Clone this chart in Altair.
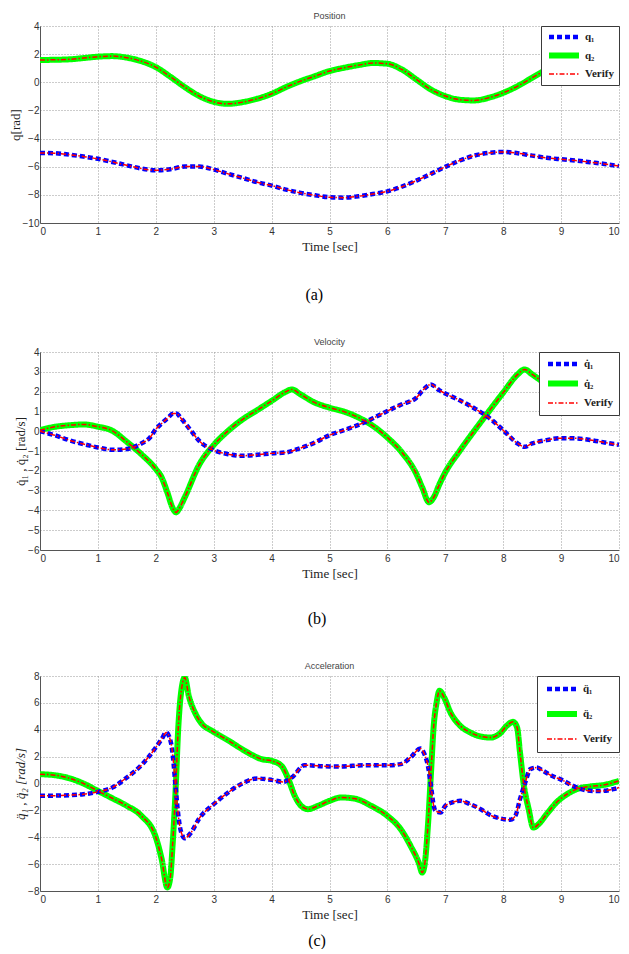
import altair as alt
import pandas as pd

SANS = "Liberation Sans"
SERIF = "Liberation Serif"

# ---------------- Panel (a): Position ----------------
pos_t = [0, 0.25, 0.5, 0.75, 1, 1.25, 1.5, 1.75, 2, 2.25, 2.5, 2.75, 3, 3.25, 3.5, 3.75,
         4, 4.25, 4.5, 4.75, 5, 5.25, 5.5, 5.75, 6, 6.25, 6.5, 6.75, 7, 7.25, 7.5, 7.75,
         8, 8.25, 8.5, 8.75, 9, 9.25, 9.5, 9.75, 10]
pos_q1 = [-5.02, -5.04, -5.14, -5.28, -5.44, -5.66, -5.9, -6.13, -6.25, -6.18, -5.99, -5.99,
          -6.2, -6.51, -6.8, -7.1, -7.34, -7.63, -7.86, -8.03, -8.17, -8.2, -8.1, -7.94,
          -7.75, -7.42, -6.99, -6.51, -6.01, -5.56, -5.21, -5.02, -4.95, -5.04, -5.21,
          -5.37, -5.47, -5.56, -5.68, -5.8, -5.96]
pos_q2 = [1.58, 1.6, 1.63, 1.72, 1.82, 1.86, 1.75, 1.5, 1.08, 0.4, -0.34, -0.98, -1.39,
          -1.53, -1.41, -1.17, -0.82, -0.34, 0.08, 0.44, 0.8, 1.03, 1.22, 1.37, 1.32, 0.91,
          0.2, -0.51, -0.98, -1.24, -1.29, -1.1, -0.75, -0.27, 0.32, 0.91, 1.5, 2.0, 2.45,
          2.8, 3.05]

# ---------------- Panel (b): Velocity ----------------
vel_t1 = [0, 0.25, 0.5, 0.75, 1, 1.25, 1.5, 1.75, 1.9, 2, 2.1, 2.2, 2.3, 2.35, 2.45, 2.6,
          2.75, 3, 3.25, 3.5, 3.75, 4, 4.25, 4.5, 4.75, 5, 5.25, 5.5, 5.75, 6, 6.25, 6.5,
          6.6, 6.75, 6.9, 7, 7.25, 7.5, 7.75, 8, 8.25, 8.37, 8.5, 8.75, 9, 9.25, 9.5,
          9.75, 10]
vel_q1 = [0.0, -0.2, -0.45, -0.65, -0.82, -0.94, -0.9, -0.62, -0.32, 0.1, 0.39, 0.65, 0.89,
          0.9, 0.6, 0.05, -0.49, -0.96, -1.16, -1.24, -1.19, -1.12, -1.07, -0.85, -0.57,
          -0.2, 0.05, 0.32, 0.65, 1.02, 1.36, 1.69, 2.03, 2.36, 2.06, 1.9, 1.56, 1.16,
          0.69, 0.05, -0.62, -0.79, -0.62, -0.45, -0.35, -0.36, -0.44, -0.57, -0.69]
vel_t2 = [0, 0.25, 0.5, 0.75, 1, 1.25, 1.5, 1.75, 2, 2.1, 2.2, 2.3, 2.35, 2.4, 2.5, 2.75,
          3, 3.25, 3.5, 3.75, 4, 4.25, 4.35, 4.5, 4.75, 5, 5.25, 5.5, 5.75, 6, 6.25, 6.5,
          6.6, 6.72, 6.8, 6.9, 7, 7.25, 7.5, 7.75, 8, 8.25, 8.37, 8.5, 8.75, 9, 9.5, 10]
vel_q2 = [0.05, 0.22, 0.3, 0.34, 0.23, 0.02, -0.54, -1.16, -1.91, -2.33, -3.1, -3.93, -4.1,
          -3.93, -3.34, -1.69, -0.7, 0.02, 0.6, 1.06, 1.53, 2.0, 2.11, 1.86, 1.44, 1.19,
          0.99, 0.69, 0.27, -0.32, -1.07, -2.16, -2.83, -3.59, -3.34, -2.67, -2.08, -0.99,
          0.02, 0.99, 1.95, 2.87, 3.12, 2.87, 2.37, 2.0, 1.7, 1.48]

# ---------------- Panel (c): Acceleration ----------------
acc_t1 = [0, 0.5, 0.75, 1, 1.25, 1.5, 1.75, 2, 2.1, 2.18, 2.26, 2.3, 2.34, 2.39, 2.43, 2.5,
          2.6, 2.75, 3, 3.25, 3.5, 3.75, 4, 4.2, 4.35, 4.57, 5, 5.2, 5.6, 6.0, 6.23, 6.4,
          6.57, 6.64, 6.7, 6.76, 6.8, 6.83, 6.92, 7.0, 7.12, 7.26, 7.43, 7.61, 7.78, 7.95,
          8.12, 8.21, 8.29, 8.38, 8.47, 8.58, 8.69, 8.84, 9.01, 9.18, 9.35, 9.55, 9.72,
          9.9, 10]
acc_q1 = [-0.92, -0.87, -0.8, -0.62, -0.3, 0.45, 1.36, 2.68, 3.3, 3.8, 3.07, 1.81, -0.17,
          -2.4, -3.5, -4.07, -3.7, -2.6, -1.54, -0.67, 0.02, 0.37, 0.27, 0.12, 0.45, 1.36,
          1.27, 1.27, 1.36, 1.36, 1.44, 1.94, 2.6, 2.18, 1.32, -0.42, -1.66, -2.03, -2.16,
          -1.66, -1.41, -1.29, -1.54, -1.91, -2.36, -2.6, -2.7, -2.41, -1.17, 0.07, 1.07,
          1.19, 0.94, 0.57, 0.27, -0.12, -0.42, -0.55, -0.55, -0.42, -0.3]
acc_t2 = [0, 0.25, 0.5, 0.75, 1, 1.25, 1.5, 1.75, 2, 2.1, 2.2, 2.25, 2.29, 2.34, 2.39, 2.43,
          2.5, 2.57, 2.69, 2.8, 2.97, 3.26, 3.54, 3.83, 4.0, 4.17, 4.29, 4.4, 4.51, 4.63,
          4.8, 5.0, 5.2, 5.43, 5.72, 6.0, 6.23, 6.4, 6.55, 6.6, 6.64, 6.7, 6.75, 6.8, 6.85,
          6.9, 6.98, 7.09, 7.26, 7.43, 7.61, 7.78, 7.95, 8.06, 8.17, 8.24, 8.29, 8.35, 8.44,
          8.52, 8.61, 8.75, 8.92, 9.1, 9.27, 9.5, 9.72, 10]
acc_q2 = [0.69, 0.62, 0.4, 0.0, -0.55, -1.1, -1.66, -2.4, -4.0, -5.6, -7.74, -7.0, -4.6,
          -0.67, 4.29, 6.52, 7.88, 6.52, 5.16, 4.42, 3.92, 3.18, 2.43, 1.81, 1.69, 1.32,
          0.32, -0.92, -1.66, -1.91, -1.66, -1.29, -1.04, -1.12, -1.66, -2.41, -3.4, -4.64,
          -6.0, -6.63, -6.13, -3.15, 0.57, 4.29, 6.03, 6.9, 6.4, 5.28, 4.29, 3.8, 3.5, 3.42,
          3.75, 4.29, 4.59, 4.17, 2.31, 0.07, -1.91, -3.28, -3.03, -2.28, -1.41, -0.8,
          -0.42, -0.22, -0.12, 0.2]

COLORS = ["#0000ff", "#00ff00", "#ff0000"]
DASHES = [[5, 3], [1, 0], [5, 2, 1.5, 2]]
WIDTHS = [4.5, 6, 1.5]


def build_df(t1, v1, t2, v2, n1, n2):
    rows = []
    for t, v in zip(t2, v2):
        rows.append({"t": t, "v": v, "s": n2, "k": "b", "layer": 0})
    for t, v in zip(t1, v1):
        rows.append({"t": t, "v": v, "s": n1, "k": "a", "layer": 1})
    for t, v in zip(t1, v1):
        rows.append({"t": t, "v": v, "s": "Verify", "k": "va", "layer": 2})
    for t, v in zip(t2, v2):
        rows.append({"t": t, "v": v, "s": "Verify", "k": "vb", "layer": 2})
    return pd.DataFrame(rows)


def panel(title, ytitle, df, names, ydom, yvals, w, h, italic, leg_pad, row_pad):
    dom = [names[0], names[1], "Verify"]
    leg = alt.Legend(orient="top-right", offset=0, padding=leg_pad, fillColor="white",
                     strokeColor="#3a3a3a", symbolType="stroke", symbolSize=900,
                     clipHeight=12, labelFont=SERIF, labelFontSize=11,
                     labelFontWeight="bold", labelColor="#222", rowPadding=row_pad,
                     labelOffset=3, cornerRadius=0)
    yaxis = alt.Axis(values=yvals, title=ytitle, format="d", titlePadding=0,
                     labelPadding=1,
                     titleFontStyle="italic" if italic else "normal")
    enc = dict(
        x=alt.X("t:Q", scale=alt.Scale(domain=[0, 10], nice=False, zero=False),
                axis=alt.Axis(values=list(range(11)), title="Time [sec]", format="d")),
        y=alt.Y("v:Q", scale=alt.Scale(domain=ydom, nice=False, zero=False), axis=yaxis),
        color=alt.Color("s:N", title=None, legend=leg,
                        scale=alt.Scale(type="ordinal", domain=dom, range=COLORS)),
        strokeDash=alt.StrokeDash("s:N", title=None, legend=leg,
                                  scale=alt.Scale(type="ordinal", domain=dom, range=DASHES)),
        strokeWidth=alt.StrokeWidth("s:N", title=None, legend=leg,
                                    scale=alt.Scale(type="ordinal", domain=dom, range=WIDTHS)),
        detail="k:N",
    )
    layers = [
        alt.Chart(df).transform_filter(alt.datum.layer == i)
        .mark_line(interpolate="monotone", clip=True).encode(**enc)
        for i in range(3)
    ]
    return alt.layer(*layers).properties(
        width=w, height=h,
        title=alt.TitleParams(title, frame="group", anchor="middle", font=SANS,
                              fontSize=9, fontWeight="normal", color="#444", offset=0),
    )


def wrap(ch, lab, off):
    return alt.vconcat(ch, title=alt.TitleParams(lab, orient="bottom", anchor="middle",
                                                 font=SERIF, fontSize=16,
                                                 fontWeight="normal", color="#000",
                                                 offset=off)).resolve_scale(
        color="independent", strokeDash="independent", strokeWidth="independent")


df_a = build_df(pos_t, pos_q1, pos_t, pos_q2, "q\u2081", "q\u2082")
df_b = build_df(vel_t1, vel_q1, vel_t2, vel_q2, "q\u0307\u2081", "q\u0307\u2082")
df_c = build_df(acc_t1, acc_q1, acc_t2, acc_q2, "q\u0308\u2081", "q\u0308\u2082")

W = 579
pa = panel("Position", "q[rad]", df_a, ["q\u2081", "q\u2082"], [-10, 4],
           list(range(-10, 5, 2)), W, 197, False, 5, 6.5)
pb = panel("Velocity", "q\u0307\u2081 , q\u0307\u2082 [rad/s]", df_b,
           ["q\u0307\u2081", "q\u0307\u2082"], [-6, 4], list(range(-6, 5, 1)),
           W, 198, False, 6, 7.5)
pc = panel("Acceleration", "q\u0308\u2081 , q\u0308\u2082 [rad/s]", df_c,
           ["q\u0308\u2081", "q\u0308\u2082"], [-8, 8], list(range(-8, 9, 2)),
           W, 215, True, 7, 13)

chart = alt.vconcat(wrap(pa, "(a)", 33), wrap(pb, "(b)", 30), wrap(pc, "(c)", 11),
                    spacing=34).resolve_scale(
    color="independent", strokeDash="independent", strokeWidth="independent"
).properties(
    padding={"left": 0, "top": 3, "right": 0, "bottom": 0}
).configure_view(stroke="transparent").configure_axis(
    labelFont=SANS, labelFontSize=10, labelColor="#333", domainColor="#555",
    gridColor="#999", gridDash=[1, 2], ticks=False, tickSize=0, labelPadding=3,
    titleFont=SERIF, titleFontSize=13, titleFontWeight="normal", titleColor="#222",
).configure_axisX(titlePadding=4)

chart.save("out.html", embed_options={"renderer": "svg", "actions": False})
